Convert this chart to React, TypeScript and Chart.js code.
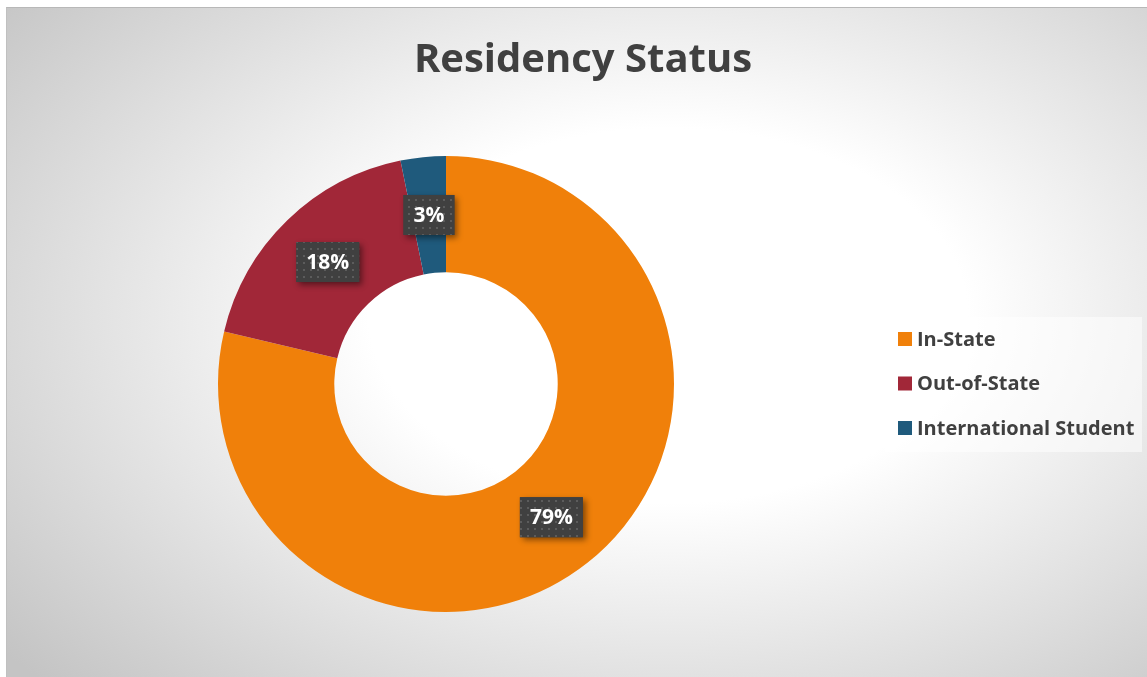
import React, { useEffect, useRef } from "react";
import { Chart, registerables } from "chart.js";

Chart.register(...registerables);

const categories = ["In-State", "Out-of-State", "International Student"];
const values = [78.7, 18.1, 3.2];
const labelTexts = ["79%", "18%", "3%"];
const colors = ["#F0800A", "#A12738", "#1F5A7C"];
const titleText = "Residency Status";

const FONT = "'Open Sans', 'DejaVu Sans', sans-serif";

function makePattern(ctx: CanvasRenderingContext2D) {
  const c = document.createElement("canvas");
  c.width = 7;
  c.height = 7;
  const p = c.getContext("2d")!;
  p.fillStyle = "#404040";
  p.fillRect(0, 0, 7, 7);
  p.fillStyle = "#5c5c5c";
  p.fillRect(3, 3, 2, 2);
  return ctx.createPattern(c, "repeat");
}

const decorPlugin = {
  id: "decor",
  afterDraw(chart: any) {
    const ctx: CanvasRenderingContext2D = chart.ctx;
    // Title
    ctx.save();
    ctx.fillStyle = "#404040";
    ctx.font = `bold 40px ${FONT}`;
    ctx.textAlign = "center";
    ctx.textBaseline = "alphabetic";
    ctx.fillText(titleText, 577, 65);
    ctx.restore();

    // Data labels
    const meta = chart.getDatasetMeta(0);
    const pattern = makePattern(ctx);
    meta.data.forEach((arc: any, i: number) => {
      const pos = arc.tooltipPosition();
      const txt = labelTexts[i];
      ctx.save();
      ctx.font = `bold 21px ${FONT}`;
      const w = ctx.measureText(txt).width + 20;
      const h = 40;
      const x = pos.x - w / 2;
      const y = pos.y - h / 2;
      ctx.shadowColor = "rgba(0,0,0,0.45)";
      ctx.shadowBlur = 6;
      ctx.shadowOffsetX = 3;
      ctx.shadowOffsetY = 3;
      ctx.fillStyle = "#404040";
      ctx.fillRect(x, y, w, h);
      ctx.shadowColor = "transparent";
      ctx.fillStyle = pattern || "#404040";
      ctx.fillRect(x, y, w, h);
      ctx.fillStyle = "#ffffff";
      ctx.textAlign = "center";
      ctx.textBaseline = "middle";
      ctx.fillText(txt, pos.x, pos.y + 1);
      ctx.restore();
    });

    // Legend
    ctx.save();
    ctx.fillStyle = "rgba(255,255,255,0.5)";
    ctx.fillRect(879, 310, 257, 135);
    ctx.font = `bold 20px ${FONT}`;
    ctx.textBaseline = "middle";
    ctx.textAlign = "left";
    const ds = chart.data.datasets[0];
    chart.data.labels.forEach((lab: string, i: number) => {
      const cy = 332 + i * 44.5;
      ctx.fillStyle = ds.backgroundColor[i];
      ctx.fillRect(892, cy - 7, 14, 14);
      ctx.fillStyle = "#404040";
      ctx.fillText(lab, 911, cy + 1);
    });
    ctx.restore();
  },
};

export default function App() {
  const ref = useRef<HTMLCanvasElement>(null);
  useEffect(() => {
    const chart = new Chart(ref.current!, {
      type: "doughnut",
      data: {
        labels: categories,
        datasets: [
          {
            data: values,
            backgroundColor: colors,
            borderWidth: 0,
            hoverBorderWidth: 0,
            hoverOffset: 0,
            offset: 0,
          },
        ],
      },
      options: {
        animation: false,
        responsive: false,
        cutout: "49%",
        layout: { padding: { left: 0, right: 261, top: 149, bottom: 65 } },
        plugins: {
          legend: { display: false },
          title: { display: false },
          tooltip: { enabled: false },
        },
      },
      plugins: [decorPlugin],
    });
    return () => chart.destroy();
  }, []);
  return (
    <div
      style={{
        position: "absolute",
        left: 6,
        top: 7,
        width: 1141,
        height: 670,
        borderTop: "1px solid #b8b8b8",
        borderLeft: "1px solid #c0c0c0",
        boxSizing: "border-box",
        background:
          "radial-gradient(ellipse 75% 80% at 58% 46%, #ffffff 0%, #ffffff 35%, #c4c4c4 100%)",
      }}
    >
      <canvas
        ref={ref}
        width={1141}
        height={670}
        style={{ position: "absolute", left: -1, top: -1, width: 1141, height: 670 }}
      />
    </div>
  );
}
